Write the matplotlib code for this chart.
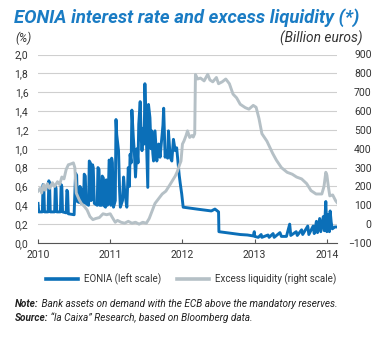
import matplotlib
matplotlib.use('Agg')
import matplotlib.pyplot as plt
from matplotlib.lines import Line2D
from matplotlib.ticker import FuncFormatter, MultipleLocator

plt.rcParams['font.family'] = ['Roboto', 'DejaVu Sans']

# EONIA, % (left scale) - decimal years
eonia_t = [2010.00, 2010.01, 2010.06, 2010.07, 2010.08, 2010.09, 2010.14, 2010.15, 2010.16, 2010.17,
           2010.23, 2010.24, 2010.25, 2010.26, 2010.31, 2010.32, 2010.33, 2010.34, 2010.39, 2010.40,
           2010.41, 2010.42, 2010.50, 2010.52, 2010.535, 2010.545, 2010.57, 2010.58, 2010.595, 2010.60,
           2010.63, 2010.64, 2010.655, 2010.665, 2010.70, 2010.71, 2010.725, 2010.735, 2010.755, 2010.765,
           2010.78, 2010.82, 2010.83, 2010.845, 2010.855, 2010.88, 2010.89, 2010.905, 2010.91, 2010.935,
           2010.945, 2010.96, 2010.97, 2010.985, 2010.995, 2011.01, 2011.02, 2011.03, 2011.045, 2011.07,
           2011.08, 2011.09, 2011.115, 2011.13, 2011.14, 2011.17, 2011.185, 2011.2, 2011.23, 2011.25,
           2011.265, 2011.275, 2011.29, 2011.30, 2011.32, 2011.335, 2011.35, 2011.37, 2011.385, 2011.395,
           2011.415, 2011.43, 2011.44, 2011.46, 2011.47, 2011.48, 2011.505, 2011.52, 2011.53, 2011.55,
           2011.565, 2011.575, 2011.59, 2011.60, 2011.62, 2011.635, 2011.645, 2011.67, 2011.69, 2011.715,
           2011.73, 2011.74, 2011.76, 2011.78, 2011.795, 2011.806, 2011.83, 2011.853, 2011.875, 2011.90,
           2011.92, 2011.945, 2011.955, 2011.97, 2011.99, 2012.01, 2012.10, 2012.20, 2012.30, 2012.40,
           2012.45, 2012.50, 2012.505, 2012.60, 2012.70, 2012.80, 2012.90, 2012.98, 2012.995, 2013.00,
           2013.05, 2013.09, 2013.10, 2013.185, 2013.20, 2013.255, 2013.27, 2013.35, 2013.37, 2013.44,
           2013.485, 2013.50, 2013.575, 2013.59, 2013.65, 2013.665, 2013.735, 2013.75, 2013.81, 2013.825,
           2013.855, 2013.87, 2013.90, 2013.915, 2013.95, 2013.965, 2013.985, 2014.00, 2014.02, 2014.035,
           2014.045, 2014.06, 2014.075, 2014.11, 2014.14]
eonia = [0.42, 0.33, 0.33, 0.62, 0.60, 0.33, 0.33, 0.66, 0.63, 0.33,
         0.33, 0.60, 0.58, 0.33, 0.33, 0.62, 0.60, 0.33, 0.32, 0.56,
         0.54, 0.31, 0.30, 0.74, 0.72, 0.44, 0.43, 0.60, 0.58, 0.42,
         0.42, 0.73, 0.71, 0.42, 0.40, 0.87, 0.85, 0.45, 0.83, 0.80,
         0.42, 0.40, 0.80, 0.78, 0.40, 0.40, 0.71, 0.69, 0.40, 0.38,
         0.67, 0.40, 0.42, 0.88, 0.86, 0.40, 0.90, 0.85, 0.38, 0.45,
         1.31, 1.15, 0.98, 0.55, 0.38, 0.45, 0.70, 0.55, 0.38, 0.80,
         0.60, 0.94, 0.85, 1.41, 1.12, 0.95, 0.70, 1.00, 0.85, 1.26,
         1.50, 1.10, 0.98, 1.22, 1.05, 1.69, 0.98, 0.59, 1.47, 1.33,
         1.00, 1.19, 0.95, 0.87, 1.19, 1.00, 0.87, 1.05, 0.91, 1.12,
         1.25, 1.43, 0.91, 0.98, 0.90, 1.19, 0.91, 0.87, 1.10, 0.98,
         1.01, 0.80, 0.72, 0.63, 0.52, 0.38, 0.37, 0.36, 0.35, 0.34,
         0.36, 0.33, 0.12, 0.11, 0.10, 0.09, 0.085, 0.075, 0.12, 0.07,
         0.06, 0.09, 0.06, 0.085, 0.06, 0.10, 0.06, 0.11, 0.07, 0.07,
         0.20, 0.08, 0.12, 0.08, 0.14, 0.09, 0.18, 0.09, 0.18, 0.10,
         0.23, 0.11, 0.26, 0.12, 0.28, 0.13, 0.44, 0.12, 0.30, 0.12,
         0.34, 0.22, 0.15, 0.17, 0.17]

# excess liquidity, billion euros (right scale)
liq_t = [2010.00, 2010.03, 2010.05, 2010.08, 2010.10, 2010.13, 2010.16, 2010.20,
         2010.23, 2010.27, 2010.30, 2010.33, 2010.36, 2010.39, 2010.42, 2010.46,
         2010.49, 2010.51, 2010.53, 2010.57, 2010.60, 2010.64, 2010.68, 2010.72,
         2010.76, 2010.80, 2010.85, 2010.90, 2010.95, 2011.00, 2011.03, 2011.07,
         2011.10, 2011.15, 2011.20, 2011.25, 2011.30, 2011.35, 2011.40, 2011.45,
         2011.50, 2011.54, 2011.58, 2011.62, 2011.68, 2011.72, 2011.77, 2011.82,
         2011.86, 2011.90, 2011.93, 2011.96, 2011.98, 2012.00, 2012.02, 2012.05,
         2012.07, 2012.10, 2012.13, 2012.15, 2012.17, 2012.18, 2012.21, 2012.25,
         2012.30, 2012.35, 2012.38, 2012.42, 2012.47, 2012.50, 2012.55, 2012.60,
         2012.65, 2012.70, 2012.75, 2012.80, 2012.87, 2012.92, 2012.98, 2013.02,
         2013.06, 2013.10, 2013.17, 2013.25, 2013.30, 2013.37, 2013.45, 2013.52,
         2013.58, 2013.65, 2013.72, 2013.78, 2013.85, 2013.93, 2013.96, 2013.985,
         2014.00, 2014.02, 2014.04, 2014.08, 2014.12, 2014.14]
liq = [175, 190, 165, 210, 180, 215, 190, 220,
       200, 225, 210, 250, 240, 290, 315, 320,
       325, 300, 165, 130, 110, 95, 75, 40,
       24, 30, 35, 55, 50, 55, 35, 10,
       20, 10, 5, 15, 5, 10, 0, 10,
       5, 30, 70, 110, 140, 160, 175, 205,
       230, 255, 280, 315, 335, 425, 440, 470,
       495, 460, 470, 462, 480, 794, 770, 775,
       760, 795, 765, 755, 778, 745, 755, 770,
       745, 690, 670, 636, 618, 610, 630, 620,
       560, 480, 440, 375, 340, 300, 275, 265,
       250, 240, 215, 178, 160, 160, 200, 275,
       260, 200, 150, 155, 125, 115]

years = [2010, 2011, 2012, 2013, 2014]

blue = '#0b6fb8'
grey = '#b5c0c6'
txt = '#333333'

fig = plt.figure(figsize=(3.82, 3.38), dpi=100)
ax = fig.add_axes([38 / 382, 95 / 338, 299 / 382, 188.5 / 338])
ax2 = ax.twinx()

ax.plot(eonia_t, eonia, color=blue, lw=2.1)
ax2.plot(liq_t, liq, color=grey, lw=2.1)

ax.set_xlim(2010, 2014.14)
ax.set_ylim(0, 2)
ax2.set_ylim(-100, 900)
ax.yaxis.set_major_locator(MultipleLocator(0.2))
ax2.yaxis.set_major_locator(MultipleLocator(100))
ax.yaxis.set_major_formatter(FuncFormatter(lambda v, p: ('%.1f' % v).replace('.', ',')))
ax.set_xticks(years)
ax.grid(axis='y', color='#cfcfcf', lw=0.8)
ax.set_axisbelow(True)

for a in (ax, ax2):
    for s in ('top', 'left', 'right'):
        a.spines[s].set_visible(False)
ax2.spines['bottom'].set_visible(False)
ax.spines['bottom'].set_color('#555555')
ax.spines['bottom'].set_linewidth(0.8)

ax.tick_params(axis='x', direction='in', length=3, color='#555555', labelsize=7.5,
               labelcolor=txt, pad=5)
ax.tick_params(axis='y', length=0, labelsize=7.5, labelcolor=txt, pad=7)
ax2.tick_params(axis='y', length=0, labelsize=7.5, labelcolor=txt, pad=25)
for lab in ax2.get_yticklabels():
    lab.set_ha('right')

r = fig.canvas.get_renderer()


def fit(t, width):
    # shrink/grow a text so it spans the given pixel width
    w = t.get_window_extent(renderer=r).width
    t.set_fontsize(t.get_fontsize() * width / w)
    return t


fit(fig.text(14 / 382, 1 - 18 / 338, 'EONIA interest rate and excess liquidity (*)',
             color='#1a7cc4', fontsize=12, fontweight='bold', fontstyle='italic',
             va='center', ha='left'), 345)
fig.text(15 / 382, 1 - 38 / 338, '(%)', fontsize=8.5, fontstyle='italic',
         color=txt, va='center', ha='left')
fit(fig.text(362 / 382, 1 - 38 / 338, '(Billion euros)', fontsize=8.5, fontstyle='italic',
             color=txt, va='center', ha='right'), 82)

probe = fig.text(0, 0, 'Excess liquidity (right scale)', fontsize=8)
fit(probe, 122)
leg_size = probe.get_fontsize()
probe.remove()

handles = [Line2D([], [], color=blue, lw=2.6), Line2D([], [], color=grey, lw=2.6)]
fig.legend(handles, ['EONIA (left scale)', 'Excess liquidity (right scale)'],
           loc='center left', bbox_to_anchor=(46 / 382, 1 - 279 / 338), ncol=2,
           frameon=False, fontsize=leg_size, handlelength=32 / (leg_size * 1.389),
           handletextpad=6 / (leg_size * 1.389), columnspacing=16 / (leg_size * 1.389),
           borderpad=0, borderaxespad=0, labelcolor=txt)

notes = [('Note:', ' Bank assets on demand with the ECB above the mandatory reserves.', 304, 325),
         ('Source:', ' “la Caixa” Research, based on Bloomberg data.', 318, 243)]
probe = fig.text(0, 0, notes[0][0] + notes[0][1], fontsize=8, fontstyle='italic')
fit(probe, notes[0][3])
note_size = probe.get_fontsize()
probe.remove()
for head, rest, yy, _ in notes:
    t = fig.text(15 / 382, 1 - yy / 338, head, fontsize=note_size, fontweight='bold',
                 fontstyle='italic', color='#222222', va='center', ha='left')
    w = t.get_window_extent(renderer=r).width
    fig.text((15 + w) / 382, 1 - yy / 338, rest, fontsize=note_size, fontstyle='italic',
             color='#222222', va='center', ha='left')

fig.savefig('out.png', dpi=100)
